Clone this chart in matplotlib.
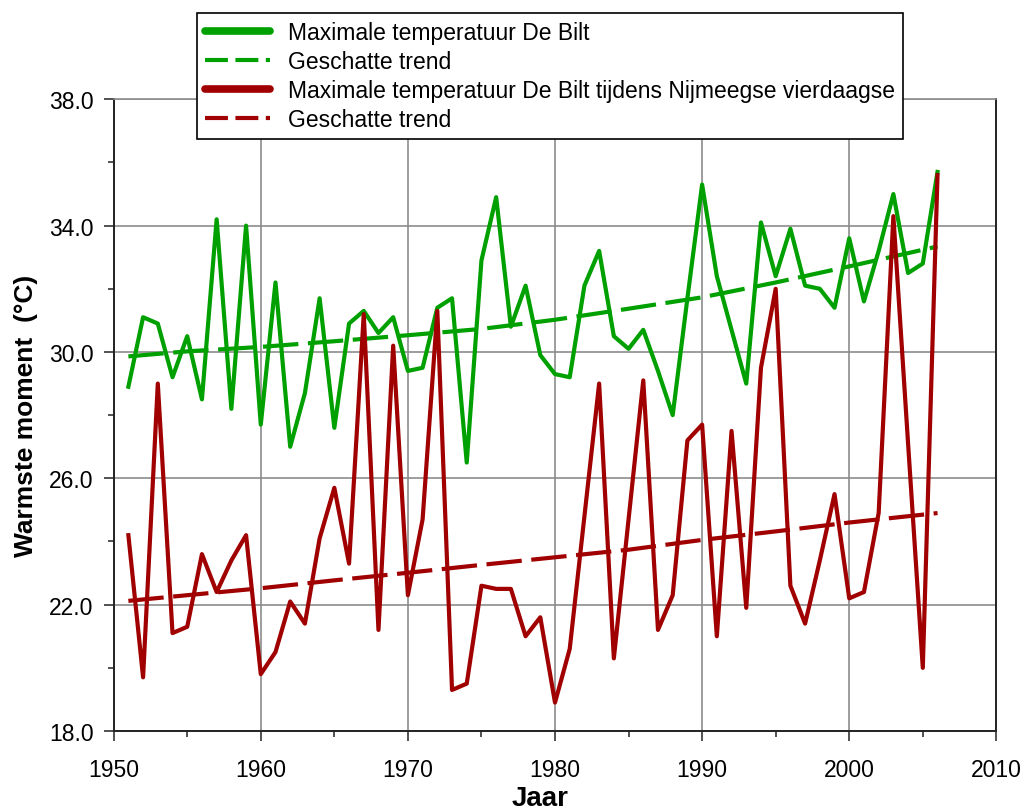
import matplotlib
matplotlib.use("Agg")
import matplotlib.pyplot as plt
from matplotlib.lines import Line2D
from matplotlib.ticker import MultipleLocator, FormatStrFormatter

plt.rcParams['font.family'] = ['Liberation Sans', 'DejaVu Sans']

# Data
years = list(range(1951, 2007))

max_de_bilt = [
    28.9, 31.1, 30.9, 29.2, 30.5, 28.5, 34.2, 28.2, 34.0, 27.7,
    32.2, 27.0, 28.7, 31.7, 27.6, 30.9, 31.3, 30.6, 31.1, 29.4,
    29.5, 31.4, 31.7, 26.5, 32.9, 34.9, 30.8, 32.1, 29.9, 29.3,
    29.2, 32.1, 33.2, 30.5, 30.1, 30.7, 29.4, 28.0, 31.7, 35.3,
    32.4, 30.7, 29.0, 34.1, 32.4, 33.9, 32.1, 32.0, 31.4, 33.6,
    31.6, 33.2, 35.0, 32.5, 32.8, 35.7,
]

max_vierdaagse = [
    24.2, 19.7, 29.0, 21.1, 21.3, 23.6, 22.4, 23.4, 24.2, 19.8,
    20.5, 22.1, 21.4, 24.1, 25.7, 23.3, 31.2, 21.2, 30.2, 22.3,
    24.7, 31.3, 19.3, 19.5, 22.6, 22.5, 22.5, 21.0, 21.6, 18.9,
    20.6, 24.8, 29.0, 20.3, 24.7, 29.1, 21.2, 22.3, 27.2, 27.7,
    21.0, 27.5, 21.9, 29.5, 32.0, 22.6, 21.4, 23.4, 25.5, 22.2,
    22.4, 24.9, 34.3, 27.1, 20.0, 35.6,
]

trend_years = [1951, 1955, 1960, 1965, 1970, 1975, 1980, 1985, 1990, 1995, 2000, 2006]
trend_de_bilt = [29.86, 30.02, 30.16, 30.34, 30.53, 30.73, 31.02, 31.37, 31.73, 32.20, 32.71, 33.34]
trend_vierdaagse = [22.12, 22.30, 22.52, 22.77, 23.01, 23.26, 23.50, 23.74, 24.05, 24.32, 24.60, 24.90]

y_ticks = [18, 22, 26, 30, 34, 38]

labels = [
    "Maximale temperatuur De Bilt",
    "Geschatte trend",
    "Maximale temperatuur De Bilt tijdens Nijmeegse vierdaagse",
    "Geschatte trend",
]

GREEN = "#00a000"
RED = "#a00000"

fig = plt.figure(figsize=(10.24, 8.12), dpi=100)
ax = fig.add_axes([0.111, 0.0985, 0.862, 0.778])

ax.plot(years, max_de_bilt, color=GREEN, lw=3.0, solid_joinstyle="round", zorder=3)
ax.plot(trend_years, trend_de_bilt, color=GREEN, lw=3.0, dashes=(8.5, 2.3), zorder=3)
ax.plot(years, max_vierdaagse, color=RED, lw=3.0, solid_joinstyle="round", zorder=3)
ax.plot(trend_years, trend_vierdaagse, color=RED, lw=3.0, dashes=(8.5, 2.3), zorder=3)

ax.set_xlim(1950, 2010)
ax.set_ylim(18, 38)
ax.xaxis.set_major_locator(MultipleLocator(10))
ax.xaxis.set_minor_locator(MultipleLocator(5))
ax.set_yticks(y_ticks)
ax.yaxis.set_minor_locator(MultipleLocator(2))
ax.yaxis.set_major_formatter(FormatStrFormatter("%.1f"))

ax.tick_params(axis="both", which="major", direction="out", length=7.5, width=1.2,
               labelsize=16.5, color="#333333")
ax.tick_params(axis="x", which="major", pad=12)
ax.tick_params(axis="y", which="major", pad=7)
ax.tick_params(axis="both", which="minor", direction="out", length=4, width=1.2,
               color="#333333")

ax.grid(True, which="major", color="#8c8c8c", lw=1.2, zorder=0)
for side in ["left", "bottom", "right"]:
    ax.spines[side].set_linewidth(1.4)
    ax.spines[side].set_color("#222222")
ax.spines["top"].set_color("#8c8c8c")
ax.spines["top"].set_linewidth(1.2)

ax.set_xlabel("Jaar", fontsize=20, fontweight="bold")
ax.xaxis.set_label_coords(0.483, -0.085)
ax.set_ylabel("Warmste moment  (\u00b0C)", fontsize=19, fontweight="bold")
ax.yaxis.set_label_coords(-0.086, 0.5)

handles = [
    Line2D([], [], color=GREEN, lw=5.5, solid_capstyle="round"),
    Line2D([], [], color=GREEN, lw=3.0, dashes=(5.5, 1.8)),
    Line2D([], [], color=RED, lw=5.5, solid_capstyle="round"),
    Line2D([], [], color=RED, lw=3.0, dashes=(5.5, 1.8)),
]
leg = fig.legend(handles, labels, loc="upper left", bbox_to_anchor=(0.192, 0.983),
                 fontsize=16.5, frameon=True, fancybox=False, framealpha=1,
                 edgecolor="black", handlelength=2.85, handletextpad=0.8,
                 labelspacing=0.27, borderpad=0.35, borderaxespad=0)
leg.get_frame().set_linewidth(1.2)
leg.set_zorder(10)

fig.savefig("out.png", dpi=100)
